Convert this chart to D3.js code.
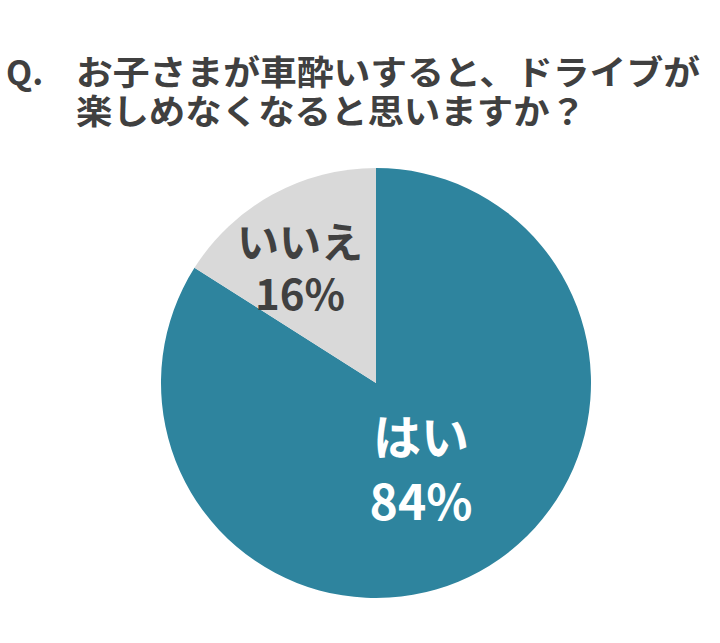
<!DOCTYPE html>
<html><head><meta charset="utf-8">
<script src="https://cdn.jsdelivr.net/npm/d3@7"></script>
<style>body{margin:0;background:#fff}</style></head>
<body><svg id="c" width="720" height="643"></svg>
<script>
const categories=["はい","いいえ"];
const values=[84,16];
const colors=["#2e849e","#d9d9d9"];
const svg=d3.select("#c");
const font="'Noto Sans CJK JP', sans-serif";
const t=svg.append("g").attr("font-family",font).attr("font-weight","bold").attr("fill","#404040").attr("font-size",34);
t.append("text").attr("x",6).attr("y",85).text("Q.");
t.append("text").attr("x",76).attr("y",85).attr("textLength",624).attr("lengthAdjust","spacingAndGlyphs").text("お子さまが車酔いすると、ドライブが");
t.append("text").attr("x",76).attr("y",124).attr("textLength",510).attr("lengthAdjust","spacingAndGlyphs").text("楽しめなくなると思いますか？");
const cx=376,cy=383,r=215;
const pie=d3.pie().sort(null)(values);
const arc=d3.arc().innerRadius(0).outerRadius(r);
const g=svg.append("g").attr("transform",`translate(${cx},${cy})`);
g.selectAll("path").data(pie).join("path").attr("d",arc).attr("fill",(d,i)=>colors[i]);
const lab=[{x:45,y:72,c:"#fff",s:48,dy:65},{x:-76,y:-125,c:"#404040",s:42,dy:52}];
pie.forEach((d,i)=>{
  const L=g.append("text").attr("text-anchor","middle").attr("font-family",font).attr("font-weight","bold").attr("fill",lab[i].c).attr("font-size",lab[i].s);
  L.append("tspan").attr("x",lab[i].x).attr("y",lab[i].y).text(categories[i]);
  L.append("tspan").attr("x",lab[i].x).attr("y",lab[i].y+lab[i].dy).text(values[i]+"%");
});
</script></body></html>
